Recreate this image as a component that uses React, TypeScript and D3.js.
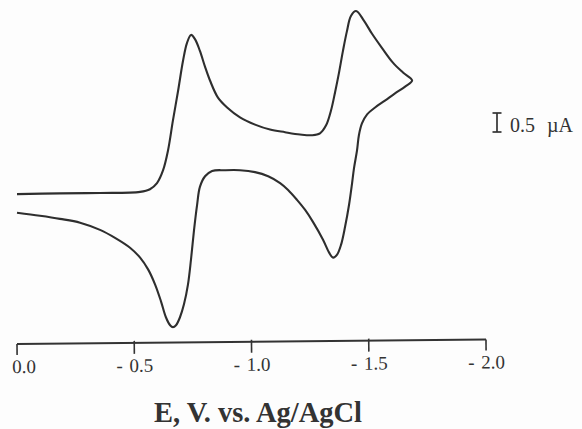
import React from "react";
import * as d3 from "d3";

// Potential (V vs Ag/AgCl) and current (µA, cathodic up)
const forwardE = [0.0, -0.183, -0.354, -0.525, -0.567, -0.597, -0.623, -0.644, -0.665, -0.687, -0.708, -0.725, -0.742, -0.759, -0.780, -0.802, -0.823, -0.857, -0.896, -0.951, -1.015, -1.079, -1.143, -1.207, -1.258, -1.292, -1.318, -1.339, -1.356, -1.373, -1.390, -1.407, -1.424, -1.446, -1.480, -1.514, -1.556, -1.603, -1.646, -1.685];
const forwardI = [-0.03, -0.01, 0.0, 0.03, 0.10, 0.26, 0.60, 1.12, 1.91, 2.69, 3.48, 3.95, 4.16, 4.05, 3.74, 3.32, 2.96, 2.51, 2.25, 1.99, 1.80, 1.67, 1.60, 1.54, 1.52, 1.57, 1.78, 2.17, 2.64, 3.16, 3.74, 4.26, 4.66, 4.79, 4.53, 4.19, 3.82, 3.43, 3.17, 2.96];
const reverseE = [-1.685, -1.655, -1.612, -1.569, -1.527, -1.493, -1.471, -1.458, -1.450, -1.437, -1.429, -1.416, -1.399, -1.382, -1.365, -1.348, -1.331, -1.305, -1.262, -1.228, -1.194, -1.156, -1.122, -1.071, -1.015, -0.951, -0.887, -0.832, -0.802, -0.780, -0.768, -0.755, -0.742, -0.729, -0.712, -0.695, -0.678, -0.665, -0.653, -0.635, -0.614, -0.589, -0.559, -0.525, -0.482, -0.418, -0.354, -0.269, -0.183, -0.098, 0.0];
const reverseI = [2.96, 2.80, 2.62, 2.43, 2.25, 2.07, 1.83, 1.52, 1.12, 0.65, 0.26, -0.31, -0.89, -1.36, -1.62, -1.70, -1.57, -1.23, -0.76, -0.44, -0.18, 0.08, 0.26, 0.44, 0.55, 0.60, 0.60, 0.58, 0.44, 0.16, -0.31, -0.97, -1.75, -2.41, -2.93, -3.27, -3.48, -3.53, -3.48, -3.27, -2.85, -2.41, -2.01, -1.70, -1.44, -1.18, -0.97, -0.78, -0.68, -0.60, -0.52];

const tickValues = [0.0, -0.5, -1.0, -1.5, -2.0];
const tickLabels = ["0.0", "-0.5", "-1.0", "-1.5", "-2.0"];
const axisTitle = "E, V. vs. Ag/AgCl";
const scaleBarCurrent = 0.5;
const scaleBarLabel = "0.5";
const scaleBarUnit = "µA";

export default function App() {
  const W = 582;
  const H = 429;
  const x = d3.scaleLinear().domain([0, -2.0]).range([17, 486]);
  const y = d3.scaleLinear().domain([0, 1]).range([193, 155]);

  const pts: [number, number][] = [
    ...forwardE.map((e, i) => [e, forwardI[i]] as [number, number]),
    ...reverseE.slice(1).map((e, i) => [e, reverseI[i + 1]] as [number, number]),
  ];
  const line = d3
    .line<[number, number]>()
    .x((d) => x(d[0]))
    .y((d) => y(d[1]))
    .curve(d3.curveCatmullRom.alpha(0.5));
  const pathD = line(pts) || "";

  const axisY = 344;
  const barX = 497;
  const barTop = 113;
  const barBottom = barTop + (y(0) - y(scaleBarCurrent));

  return (
    <svg
      width={W}
      height={H}
      style={{ position: "absolute", left: 0, top: 0, background: "#fff" }}
    >
      <rect x={0} y={0} width={W} height={H} fill="#fdfdfd" />
      <path d={pathD} fill="none" stroke="#2e2e2e" strokeWidth={2.1} strokeLinejoin="round" />

      <g transform={`rotate(-0.55, ${x(0)}, ${axisY})`}>
        <line x1={x(0)} x2={x(-2.0)} y1={axisY} y2={axisY} stroke="#333" strokeWidth={2} />
        {tickValues.map((t, i) => {
          const label = tickLabels[i];
          const neg = label.startsWith("-");
          return (
            <g key={i}>
              <line x1={x(t)} x2={x(t)} y1={axisY - (i === 0 || i === 4 ? 0 : 2)} y2={axisY + 11} stroke="#333" strokeWidth={1.6} />
              <text y={axisY + 29} fontFamily="Liberation Serif" fontSize={19} fill="#333">
                {neg ? <tspan x={x(t) - 18}>-</tspan> : null}
                <tspan x={x(t) - 5}>{neg ? label.slice(1) : label}</tspan>
              </text>
            </g>
          );
        })}
      </g>

      <text
        x={258}
        y={422}
        textAnchor="middle"
        fontFamily="Liberation Serif"
        fontWeight="bold"
        fontSize={28.5}
        fill="#333"
      >
        {axisTitle}
      </text>

      <g stroke="#333" strokeWidth={1.7}>
        <line x1={barX} x2={barX} y1={barTop} y2={barBottom} />
        <line x1={barX - 4.5} x2={barX + 4.5} y1={barTop} y2={barTop} />
        <line x1={barX - 4.5} x2={barX + 4.5} y1={barBottom} y2={barBottom} />
      </g>
      <text x={510} y={barBottom} fontFamily="Liberation Serif" fontSize={20} fill="#333">
        {scaleBarLabel}
      </text>
      <text x={547} y={barBottom} fontFamily="Liberation Serif" fontSize={20} fill="#333">
        {scaleBarUnit}
      </text>
    </svg>
  );
}
